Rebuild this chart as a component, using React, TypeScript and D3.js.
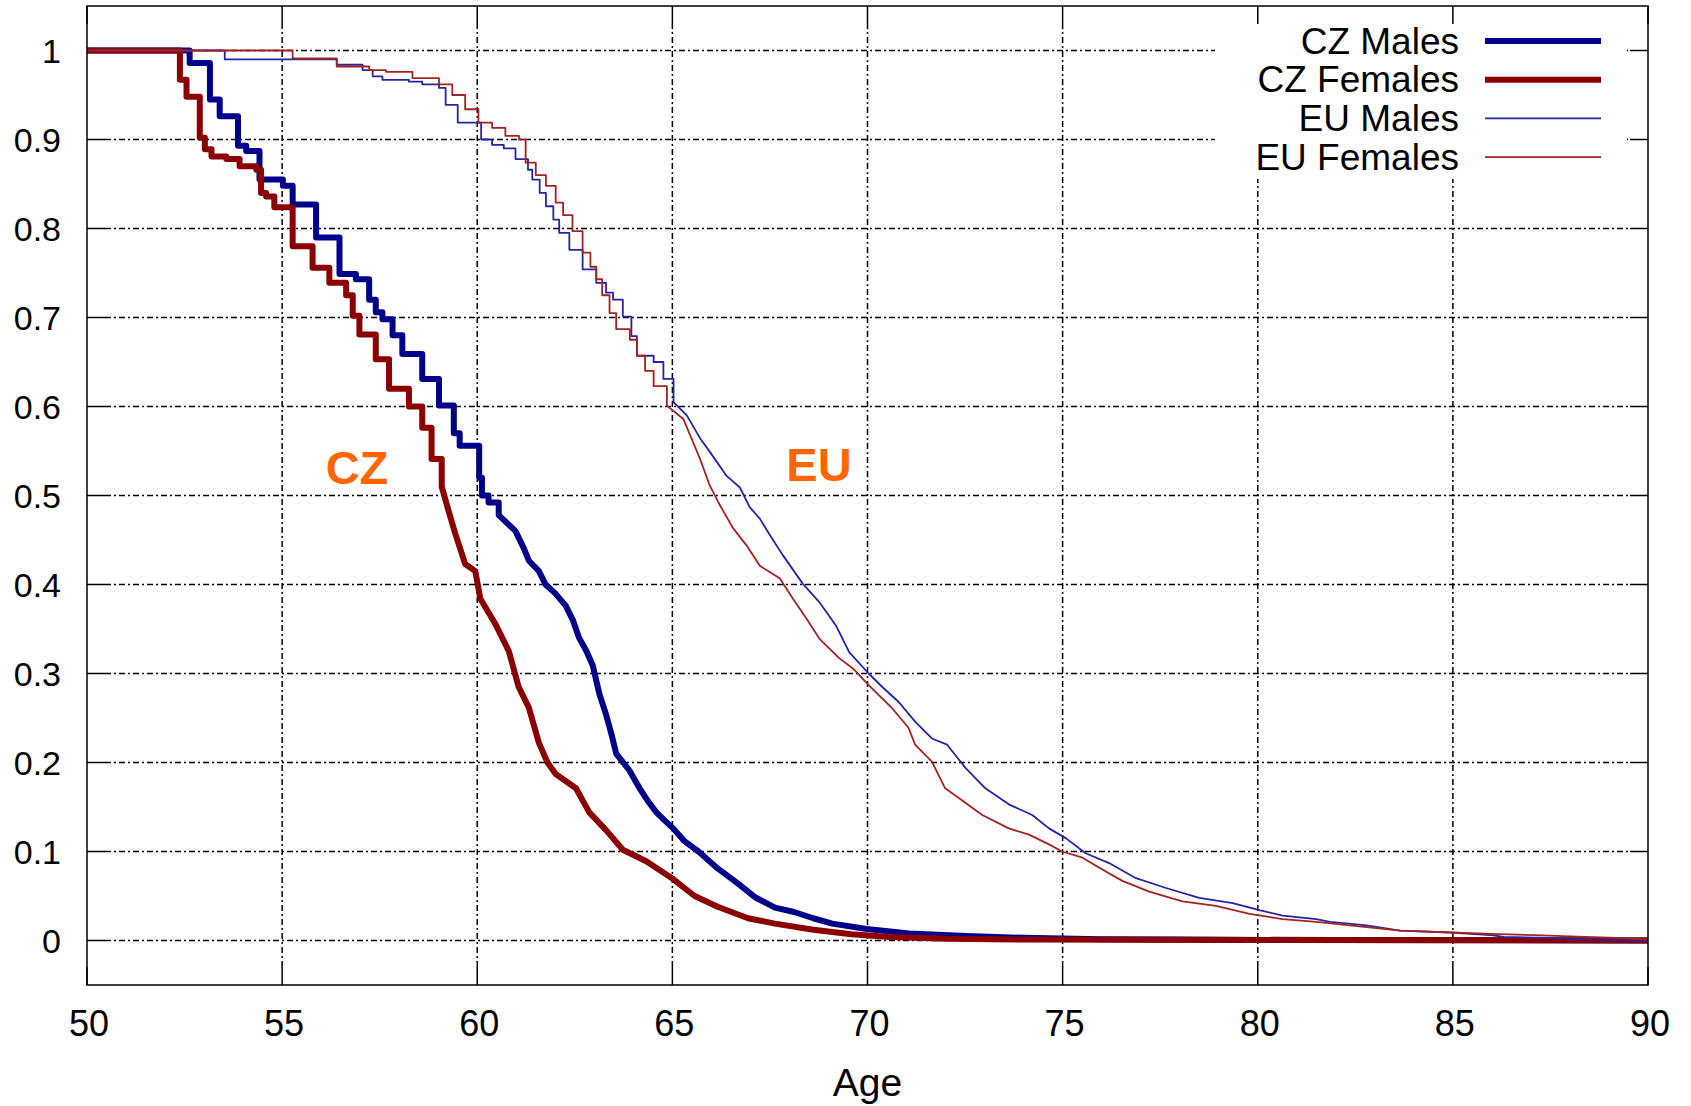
import { useEffect } from "react";
import * as d3 from "d3";

// survival curves, [age, share still working]; read as steps at first, smoother later
const CZ_MALES: [number, number][] = [
  [50, 1], [52.63, 0.986], [53.15, 0.945], [53.4, 0.926], [53.87, 0.893], [54.08, 0.887],
  [54.42, 0.855], [55.02, 0.848], [55.27, 0.827], [55.87, 0.79], [56.47, 0.749], [56.89, 0.743],
  [57.23, 0.72], [57.4, 0.706], [57.57, 0.698], [57.83, 0.68], [58.08, 0.659], [58.59, 0.631],
  [59.02, 0.601], [59.4, 0.57], [59.55, 0.556], [60.05, 0.52], [60.12, 0.5], [60.29, 0.492],
  [60.55, 0.478], [60.98, 0.46], [61.2, 0.44], [61.32, 0.427], [61.58, 0.415], [61.75, 0.4],
  [62.0, 0.39], [62.27, 0.376], [62.45, 0.36], [62.61, 0.34], [62.8, 0.325], [62.96, 0.309],
  [63.13, 0.277], [63.3, 0.254], [63.45, 0.23], [63.56, 0.21], [63.9, 0.191], [64.16, 0.171],
  [64.4, 0.155], [64.59, 0.144], [64.8, 0.135], [65.02, 0.126], [65.3, 0.112], [65.67, 0.1],
  [66.16, 0.081], [66.65, 0.065], [67.14, 0.048], [67.63, 0.037], [68.12, 0.032], [68.61, 0.025],
  [69.1, 0.019], [69.98, 0.013], [71.06, 0.008], [72.53, 0.005], [74.0, 0.003], [75.96, 0.0015],
  [77.9, 0.001], [82, 0.0005], [90, 0],
];

const CZ_FEMALES: [number, number][] = [
  [50, 1], [52.38, 0.967], [52.55, 0.948], [52.89, 0.902], [53.02, 0.889], [53.19, 0.881],
  [53.57, 0.878], [53.91, 0.87], [54.34, 0.866], [54.46, 0.84], [54.59, 0.836], [54.8, 0.824],
  [55.27, 0.78], [55.78, 0.756], [56.21, 0.739], [56.64, 0.725], [56.81, 0.702], [56.98, 0.681],
  [57.4, 0.653], [57.74, 0.62], [58.25, 0.6], [58.59, 0.576], [58.83, 0.541], [59.09, 0.51],
  [59.25, 0.485], [59.43, 0.458], [59.69, 0.423], [59.95, 0.415], [60.08, 0.384], [60.46, 0.356],
  [60.81, 0.325], [61.06, 0.285], [61.32, 0.262], [61.58, 0.222], [61.8, 0.2], [62.01, 0.187],
  [62.53, 0.171], [62.87, 0.144], [63.3, 0.124], [63.73, 0.102], [64.33, 0.089], [65.02, 0.069],
  [65.57, 0.05], [66.16, 0.038], [66.94, 0.025], [67.63, 0.019], [68.61, 0.012], [69.59, 0.007],
  [70.57, 0.004], [72.04, 0.002], [74.0, 0.001], [80, 0.0005], [90, 0],
];

const EU_MALES: [number, number][] = [
  [50, 1], [53.53, 0.99], [56.4, 0.984], [57.06, 0.978], [57.32, 0.971], [57.57, 0.967],
  [58.25, 0.965], [58.59, 0.962], [59.02, 0.958], [59.19, 0.939], [59.5, 0.919], [60.1, 0.9],
  [60.38, 0.894], [60.68, 0.89], [60.98, 0.878], [61.3, 0.866], [61.41, 0.855], [61.6, 0.84],
  [61.76, 0.825], [61.95, 0.81], [62.1, 0.795], [62.36, 0.776], [62.7, 0.754], [63.05, 0.739],
  [63.3, 0.728], [63.48, 0.72], [63.73, 0.701], [63.95, 0.679], [64.09, 0.657], [64.52, 0.65],
  [64.77, 0.631], [65.03, 0.605], [65.37, 0.59], [65.7, 0.565], [65.96, 0.549], [66.39, 0.522],
  [66.73, 0.509], [66.98, 0.487], [67.24, 0.474], [67.55, 0.452], [67.83, 0.433], [68.34, 0.401],
  [68.77, 0.38], [69.19, 0.354], [69.53, 0.324], [70.03, 0.3], [70.4, 0.284], [70.8, 0.268],
  [71.22, 0.246], [71.65, 0.227], [72.04, 0.22], [72.51, 0.194], [73.02, 0.171], [73.62, 0.153],
  [74.22, 0.141], [74.65, 0.126], [75.08, 0.115], [75.59, 0.098], [76.19, 0.087], [76.88, 0.07],
  [77.65, 0.059], [78.5, 0.048], [79.36, 0.042], [80.04, 0.034], [80.64, 0.028], [81.5, 0.024],
  [81.85, 0.021], [82.79, 0.017], [83.65, 0.011], [84.94, 0.009], [85.97, 0.006], [86.31, 0.004],
  [87.52, 0.003], [88.38, 0.001], [90, 0],
];

const EU_FEMALES: [number, number][] = [
  [50, 1], [55.27, 0.991], [56.4, 0.982], [57.23, 0.978], [57.66, 0.976], [58.34, 0.969],
  [59.02, 0.962], [59.36, 0.95], [59.69, 0.934], [60.03, 0.919], [60.38, 0.913], [60.72, 0.904],
  [61.07, 0.9], [61.24, 0.874], [61.5, 0.86], [61.76, 0.848], [62.01, 0.829], [62.2, 0.815],
  [62.44, 0.797], [62.7, 0.773], [62.9, 0.757], [63.05, 0.743], [63.2, 0.725], [63.39, 0.705],
  [63.56, 0.687], [63.91, 0.675], [64.09, 0.657], [64.3, 0.64], [64.52, 0.623], [64.86, 0.601],
  [65.28, 0.586], [65.5, 0.563], [65.71, 0.541], [65.96, 0.511], [66.22, 0.489], [66.56, 0.463],
  [66.9, 0.444], [67.24, 0.421], [67.75, 0.407], [68.09, 0.384], [68.43, 0.362], [68.77, 0.339],
  [69.28, 0.317], [69.62, 0.306], [70.03, 0.287], [70.63, 0.261], [71.05, 0.239], [71.22, 0.22],
  [71.65, 0.201], [71.99, 0.171], [72.34, 0.16], [72.94, 0.141], [73.62, 0.126], [74.14, 0.119],
  [74.65, 0.108], [74.99, 0.1], [75.51, 0.093], [75.93, 0.082], [76.53, 0.067], [77.22, 0.055],
  [78.07, 0.044], [78.93, 0.039], [79.79, 0.03], [80.64, 0.024], [81.5, 0.021], [82.79, 0.015],
  [83.65, 0.011], [84.94, 0.009], [85.97, 0.0075], [87.09, 0.006], [88.38, 0.004], [89.2, 0.003],
  [90, 0.001],
];

const X_TICKS = [50, 55, 60, 65, 70, 75, 80, 85, 90];
const Y_TICKS = [0, 0.1, 0.2, 0.3, 0.4, 0.5, 0.6, 0.7, 0.8, 0.9, 1];
const Y_TICK_LABELS = ["0", "0.1", "0.2", "0.3", "0.4", "0.5", "0.6", "0.7", "0.8", "0.9", "1"];

// stepUntil: age after which the curve is drawn as a plain polyline
const SERIES = [
  { name: "CZ Males", data: CZ_MALES, color: "#00008b", width: 6, stepUntil: 60.55 },
  { name: "CZ Females", data: CZ_FEMALES, color: "#8b0000", width: 6, stepUntil: 59.09 },
  { name: "EU Males", data: EU_MALES, color: "#2424a4", width: 1.8, stepUntil: 65.03 },
  { name: "EU Females", data: EU_FEMALES, color: "#a42222", width: 1.8, stepUntil: 64.86 },
];

const W = 1691;
const H = 1106;
const LEFT = 87;
const RIGHT = 1648;
const TOP = 6;
const BOTTOM = 985;
const TICK = 18;
const FONT = "'Liberation Sans', Arial, sans-serif";
const GRID_DASH = "6,3,2,3";

export default function App() {
  useEffect(() => {
    document.body.style.margin = "0";
  }, []);

  const x = d3.scaleLinear().domain([50, 90]).range([LEFT, RIGHT]);
  const y = d3.scaleLinear().domain([-0.05, 1.05]).range([BOTTOM, TOP]);

  const stepLine = d3
    .line<[number, number]>()
    .x((d) => x(d[0]))
    .y((d) => y(d[1]))
    .curve(d3.curveStepAfter);

  const smoothLine = d3
    .line<[number, number]>()
    .x((d) => x(d[0]))
    .y((d) => y(d[1]))
    .curve(d3.curveLinear);

  const pathFor = (data: [number, number][], stepUntil: number) =>
    (stepLine(data.filter((d) => d[0] <= stepUntil)) ?? "") +
    (smoothLine(data.filter((d) => d[0] >= stepUntil)) ?? "").replace(/^M/, "L");

  const legendRight = 1459;
  const legendLineX1 = 1485;
  const legendLineX2 = 1601;
  const legendY0 = 41;
  const legendStep = 38.7;

  return (
    <svg width={W} height={H} style={{ display: "block", background: "#fff" }}>
      <rect x={0} y={0} width={W} height={H} fill="#fff" />

      {/* grid */}
      <g stroke="#000" strokeWidth={1.5} strokeDasharray={GRID_DASH}>
        {X_TICKS.slice(1, -1).map((t) => (
          <line key={"gx" + t} x1={x(t)} x2={x(t)} y1={BOTTOM - TICK} y2={TOP + TICK} />
        ))}
        {Y_TICKS.map((t) => (
          <line key={"gy" + t} x1={LEFT + TICK} x2={RIGHT - TICK} y1={y(t)} y2={y(t)} />
        ))}
      </g>

      {/* legend box hides the grid behind it */}
      <rect x={1215} y={21} width={412} height={158} fill="#fff" />

      {/* ticks, mirrored on all sides */}
      <g stroke="#000" strokeWidth={1.5}>
        {X_TICKS.map((t) => (
          <g key={"tx" + t}>
            <line x1={x(t)} x2={x(t)} y1={BOTTOM} y2={BOTTOM - TICK} />
            <line x1={x(t)} x2={x(t)} y1={TOP} y2={TOP + TICK} />
          </g>
        ))}
        {Y_TICKS.map((t) => (
          <g key={"ty" + t}>
            <line x1={LEFT} x2={LEFT + TICK} y1={y(t)} y2={y(t)} />
            <line x1={RIGHT} x2={RIGHT - TICK} y1={y(t)} y2={y(t)} />
          </g>
        ))}
      </g>

      {/* curves */}
      <g fill="none" strokeLinejoin="round">
        {SERIES.map((s) => (
          <path key={s.name} d={pathFor(s.data, s.stepUntil)} stroke={s.color} strokeWidth={s.width} />
        ))}
      </g>

      {/* frame */}
      <rect
        x={LEFT}
        y={TOP}
        width={RIGHT - LEFT}
        height={BOTTOM - TOP}
        fill="none"
        stroke="#000"
        strokeWidth={1.5}
      />

      {/* tick labels */}
      <g fontFamily={FONT} fontSize={34} fill="#000">
        {Y_TICKS.map((t, i) => (
          <text key={"ly" + t} x={61} y={y(t)} textAnchor="end" dominantBaseline="central">
            {Y_TICK_LABELS[i]}
          </text>
        ))}
      </g>
      <g fontFamily={FONT} fontSize={36} fill="#000">
        {X_TICKS.map((t) => (
          <text key={"lx" + t} x={x(t) + 2} y={1023} textAnchor="middle" dominantBaseline="central">
            {t}
          </text>
        ))}
      </g>
      <text
        x={(LEFT + RIGHT) / 2}
        y={1082}
        textAnchor="middle"
        dominantBaseline="central"
        fontFamily={FONT}
        fontSize={39}
      >
        Age
      </text>

      {/* legend */}
      <g fontFamily={FONT} fontSize={37}>
        {SERIES.map((s, i) => {
          const ly = legendY0 + i * legendStep;
          return (
            <g key={"lg" + s.name}>
              <text x={legendRight} y={ly} textAnchor="end" dominantBaseline="central">
                {s.name}
              </text>
              <line
                x1={legendLineX1}
                x2={legendLineX2}
                y1={ly}
                y2={ly}
                stroke={s.color}
                strokeWidth={s.width}
              />
            </g>
          );
        })}
      </g>

      {/* annotations */}
      <g fontFamily={FONT} fontSize={47} fontWeight="bold" fill="#ff6600" textAnchor="middle">
        <text x={357} y={484}>CZ</text>
        <text x={819} y={481}>EU</text>
      </g>
    </svg>
  );
}
